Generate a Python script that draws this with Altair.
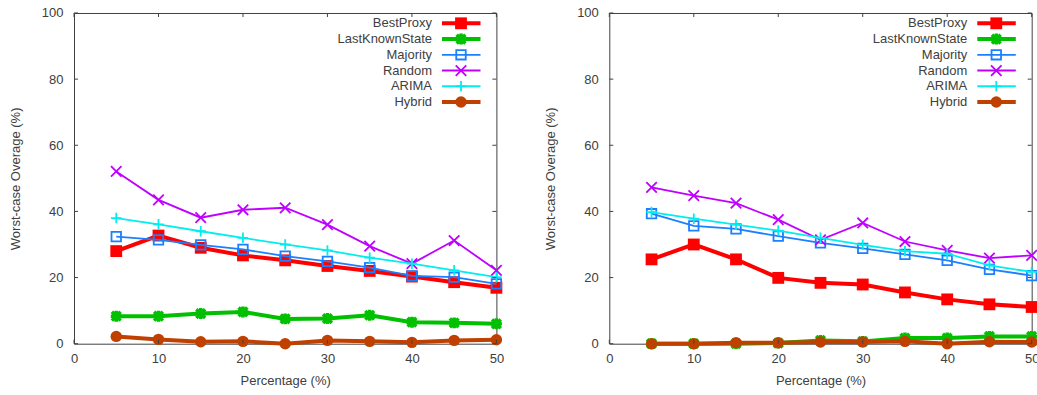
import altair as alt
import pandas as pd

# Percentage of data (x axis)
pct = [5, 10, 15, 20, 25, 30, 35, 40, 45, 50]
series_names = ["BestProxy", "LastKnownState", "Majority", "Random", "ARIMA", "Hybrid"]

# Left panel
left_best_proxy = [28.0, 32.7, 29.0, 26.7, 25.2, 23.5, 22.0, 20.3, 18.6, 16.9]
left_last_known = [8.3, 8.3, 9.1, 9.6, 7.5, 7.6, 8.6, 6.5, 6.3, 6.0]
left_majority = [32.4, 31.4, 29.9, 28.5, 26.5, 24.9, 23.0, 20.5, 20.1, 18.1]
left_random = [52.1, 43.5, 38.1, 40.5, 41.1, 36.0, 29.5, 24.2, 31.2, 22.2]
left_arima = [38.0, 36.1, 34.0, 32.0, 30.0, 28.2, 26.0, 24.2, 22.2, 20.1]
left_hybrid = [2.2, 1.3, 0.6, 0.7, 0.0, 1.0, 0.7, 0.4, 1.0, 1.2]

# Right panel
right_best_proxy = [25.5, 30.0, 25.5, 19.9, 18.4, 17.9, 15.5, 13.4, 11.9, 11.1]
right_last_known = [0.0, 0.0, 0.0, 0.2, 1.0, 0.7, 1.7, 1.7, 2.2, 2.2]
right_majority = [39.3, 35.6, 34.7, 32.5, 30.5, 28.8, 27.0, 25.2, 22.5, 20.6]
right_random = [47.3, 44.8, 42.5, 37.5, 31.4, 36.5, 30.9, 28.2, 25.9, 26.7]
right_arima = [39.8, 37.8, 36.0, 34.2, 32.0, 29.9, 28.0, 27.2, 23.7, 21.7]
right_hybrid = [0.0, 0.0, 0.3, 0.3, 0.5, 0.5, 0.7, 0.0, 0.6, 0.5]

x_ticks = [0, 10, 20, 30, 40, 50]
y_ticks = [0, 20, 40, 60, 80, 100]

W, H = 422.4, 330.7
FONT = "Liberation Sans"
TEXT = "#404040"
FRAME = "#404040"

X_PATH = "M-1,-1L1,1M-1,1L1,-1"
PLUS_PATH = "M-1,0L1,0M0,-1L0,1"
STAR_PATH = "M-1,0L1,0M0,-1L0,1M-0.8,-0.8L0.8,0.8M-0.8,0.8L0.8,-0.8"

STYLE = {
    "BestProxy": dict(color="#ff0000", lw=4, shape="square", filled=True, size=140, sw=0),
    "LastKnownState": dict(color="#00c000", lw=4, shape=STAR_PATH, filled=False, size=120, sw=3.5),
    "Majority": dict(color="#1a80ff", lw=1.8, shape="square", filled=False, size=90, sw=1.8),
    "Random": dict(color="#c000ff", lw=1.8, shape=X_PATH, filled=False, size=110, sw=1.8),
    "ARIMA": dict(color="#00eeee", lw=1.8, shape=PLUS_PATH, filled=False, size=110, sw=1.8),
    "Hybrid": dict(color="#c04000", lw=4, shape="circle", filled=True, size=130, sw=0),
}


def point_props(st):
    props = dict(shape=st["shape"], size=st["size"], filled=st["filled"], opacity=1,
                 color=st["color"])
    if st["sw"]:
        props["strokeWidth"] = st["sw"]
    return props


def panel(columns):
    rows = []
    for name, vals in zip(series_names, columns):
        for p, v in zip(pct, vals):
            rows.append({"pct": p, "val": v, "series": name})
    df = pd.DataFrame(rows)

    x_scale = alt.Scale(domain=[0, 50], nice=False, zero=False)
    y_scale = alt.Scale(domain=[0, 100], nice=False)
    x_axis = alt.Axis(values=x_ticks, title="Percentage (%)", labelPadding=9,
                      titlePadding=9, labelFlush=False)
    y_axis = alt.Axis(values=y_ticks, title="Worst-case Overage (%)", labelPadding=11,
                      titlePadding=19, labelFlush=False)

    layers = []
    for name in series_names:
        st = STYLE[name]
        sub = alt.Chart(df).transform_filter(alt.datum.series == name)
        enc = dict(x=alt.X("pct:Q", scale=x_scale, axis=x_axis),
                   y=alt.Y("val:Q", scale=y_scale, axis=y_axis))
        layers.append(sub.mark_line(color=st["color"], strokeWidth=st["lw"]).encode(**enc))
        layers.append(sub.mark_point(**point_props(st)).encode(**enc))

    # inward tick marks on all four sides of the frame
    yt = pd.DataFrame({"v": y_ticks})
    xt = pd.DataFrame({"v": x_ticks})
    ty = alt.Y("v:Q", scale=y_scale, axis=y_axis)
    tx = alt.X("v:Q", scale=x_scale, axis=x_axis)
    tick = dict(color=FRAME, strokeWidth=1)
    layers += [
        alt.Chart(yt).mark_rule(**tick).encode(y=ty, x=alt.value(0), x2=alt.value(4)),
        alt.Chart(yt).mark_rule(**tick).encode(y=ty, x=alt.value(W - 4), x2=alt.value(W)),
        alt.Chart(xt).mark_rule(**tick).encode(x=tx, y=alt.value(0), y2=alt.value(4)),
        alt.Chart(xt).mark_rule(**tick).encode(x=tx, y=alt.value(H - 4), y2=alt.value(H)),
    ]
    data_group = alt.layer(*layers)

    # key in the upper right corner: label, then line sample with marker
    leg_df = pd.DataFrame({"series": series_names, "row": list(range(len(series_names)))})
    leg_y = alt.Y("row:Q", scale=alt.Scale(domain=[0, 5], range=[10.3, 89]), axis=None)
    leg_layers = [
        alt.Chart(leg_df).mark_text(align="right", baseline="middle", font=FONT,
                                    fontSize=13, color=TEXT)
        .encode(x=alt.value(358), y=leg_y, text="series:N")
    ]
    for name in series_names:
        st = STYLE[name]
        sub = alt.Chart(leg_df).transform_filter(alt.datum.series == name)
        leg_layers.append(sub.mark_rule(color=st["color"], strokeWidth=st["lw"])
                          .encode(x=alt.value(368), x2=alt.value(406.5), y=leg_y))
        leg_layers.append(sub.mark_point(**point_props(st))
                          .encode(x=alt.value(387), y=leg_y))
    legend_group = alt.layer(*leg_layers)

    return (alt.layer(data_group, legend_group)
            .resolve_scale(y="independent")
            .properties(width=W, height=H))


left = panel([left_best_proxy, left_last_known, left_majority, left_random,
              left_arima, left_hybrid])
right = panel([right_best_proxy, right_last_known, right_majority, right_random,
               right_arima, right_hybrid])

chart = (
    alt.hconcat(left, right, spacing=112.3, bounds="flush")
    .properties(padding={"left": 8, "top": 6, "right": -8, "bottom": 0},
                background="white")
    .configure_view(stroke=FRAME, strokeWidth=1)
    .configure_axis(grid=False, domain=False, ticks=False,
                    labelFont=FONT, labelFontSize=13, labelColor=TEXT,
                    titleFont=FONT, titleFontSize=13, titleColor=TEXT,
                    titleFontWeight="normal")
)

chart.save("out.html", embed_options={"renderer": "svg", "actions": False})
